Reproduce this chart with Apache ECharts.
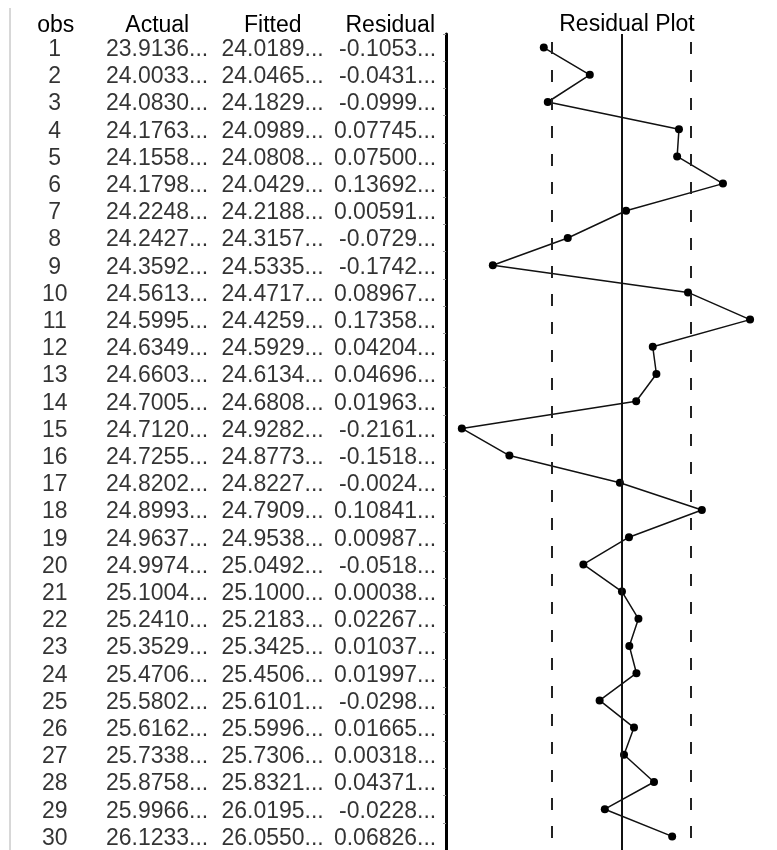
<!DOCTYPE html>
<html>
<head>
<meta charset="utf-8">
<script src="https://cdn.jsdelivr.net/npm/echarts@6/dist/echarts.min.js"></script>
<style>html,body{margin:0;padding:0;background:#fff}#c{width:777px;height:850px}</style>
</head>
<body>
<div id="c"></div>
<script>
const obs = ['1','2','3','4','5','6','7','8','9','10','11','12','13','14','15','16','17','18','19','20','21','22','23','24','25','26','27','28','29','30'];
const actual = [23.9136,24.0033,24.0830,24.1763,24.1558,24.1798,24.2248,24.2427,24.3592,24.5613,24.5995,24.6349,24.6603,24.7005,24.7120,24.7255,24.8202,24.8993,24.9637,24.9974,25.1004,25.2410,25.3529,25.4706,25.5802,25.6162,25.7338,25.8758,25.9966,26.1233];
const fitted = [24.0189,24.0465,24.1829,24.0989,24.0808,24.0429,24.2188,24.3157,24.5335,24.4717,24.4259,24.5929,24.6134,24.6808,24.9282,24.8773,24.8227,24.7909,24.9538,25.0492,25.1000,25.2183,25.3425,25.4506,25.6101,25.5996,25.7306,25.8321,26.0195,26.0550];
const residual = [-0.1053,-0.0431,-0.0999,0.07745,0.07500,0.13692,0.00591,-0.0729,-0.1742,0.08967,0.17358,0.04204,0.04696,0.01963,-0.2161,-0.1518,-0.0024,0.10841,0.00987,-0.0518,0.00038,0.02267,0.01037,0.01997,-0.0298,0.01665,0.00318,0.04371,-0.0228,0.06826];
const headers = ['obs','Actual','Fitted','Residual'];
const zeroLine = [0];
const bandLines = [-0.0950, 0.0940];
const plotTitle = 'Residual Plot';

const FONT = "'Liberation Sans', Arial, sans-serif";
const fmt = v => v.toFixed(5).slice(0, 7) + '...';

function colSeries(colIdx, texts, align, dx) {
  return {
    type: 'scatter', xAxisIndex: 0, yAxisIndex: 0, silent: true,
    symbol: 'rect', symbolSize: 1, itemStyle: { color: 'rgba(0,0,0,0)' },
    data: texts.map((t, i) => ({ value: [colIdx, i], name: t })),
    label: {
      show: true, position: [dx + 0.5, 2.5], formatter: p => p.name,
      align: align, verticalAlign: 'middle', fontSize: 23, fontFamily: FONT, color: '#000'
    },
    labelLayout: { hideOverlap: false }
  };
}

const headerPad = [[0,0,0,0],[0,20,0,0],[0,12,0,0],[0,0,0,0]];

const option = {
  animation: false,
  backgroundColor: '#fff',
  title: {
    text: plotTitle, left: 622, top: 8, textAlign: 'center',
    textStyle: { fontSize: 23, fontWeight: 'normal', fontFamily: FONT, color: '#000' }
  },
  grid: [
    { left: 0, width: 446, top: 34, bottom: -2 },
    { left: 446, right: 0, top: 34, bottom: -2 }
  ],
  xAxis: [
    {
      gridIndex: 0, type: 'category', position: 'top',
      data: headers.map((h, i) => ({ value: h, textStyle: { padding: headerPad[i] } })),
      axisLine: { show: false }, axisTick: { show: false },
      axisLabel: { fontSize: 23, fontFamily: FONT, color: '#000', margin: -3, interval: 0 },
      splitLine: { show: false }
    },
    {
      gridIndex: 1, type: 'value', min: -0.2375, max: 0.21,
      axisLine: { show: false }, axisTick: { show: false }, axisLabel: { show: false },
      splitLine: { show: false }
    }
  ],
  yAxis: [
    {
      gridIndex: 0, type: 'category', inverse: true, data: obs,
      axisLine: { show: false }, axisTick: { show: false }, axisLabel: { show: false },
      splitLine: { show: false }
    },
    {
      gridIndex: 1, type: 'category', inverse: true, data: obs,
      axisLine: { show: true, onZero: false, lineStyle: { color: '#000', width: 3 } },
      axisTick: { show: true, inside: false, length: 3, lineStyle: { color: '#999', width: 1 } },
      axisLabel: { show: false }, splitLine: { show: false }
    }
  ],
  graphic: [
    { type: 'line', shape: { x1: 10, y1: 8, x2: 10, y2: 850 }, style: { stroke: '#b0b0b0', lineWidth: 1 }, silent: true }
  ],
  series: [
    colSeries(0, obs, 'center', -1),
    colSeries(1, actual.map(fmt), 'right', 41),
    colSeries(2, fitted.map(fmt), 'right', 45),
    colSeries(3, residual.map(fmt), 'right', 46),
    {
      type: 'line', xAxisIndex: 1, yAxisIndex: 1,
      data: residual.map((r, i) => [r, i]),
      symbol: 'circle', symbolSize: 8, showSymbol: true,
      itemStyle: { color: '#000' },
      lineStyle: { color: '#111', width: 1.5 },
      markLine: {
        silent: true, symbol: 'none', precision: 5, label: { show: false },
        data: [
          ...zeroLine.map(v => ({ xAxis: v, lineStyle: { type: 'solid', color: '#111', width: 2 } })),
          ...bandLines.map(v => ({ xAxis: v, lineStyle: { type: [12, 16], dashOffset: -8, color: '#222', width: 2 } }))
        ]
      }
    }
  ]
};
echarts.init(document.getElementById('c'), null, { renderer: 'canvas' }).setOption(option);
</script>
</body>
</html>
